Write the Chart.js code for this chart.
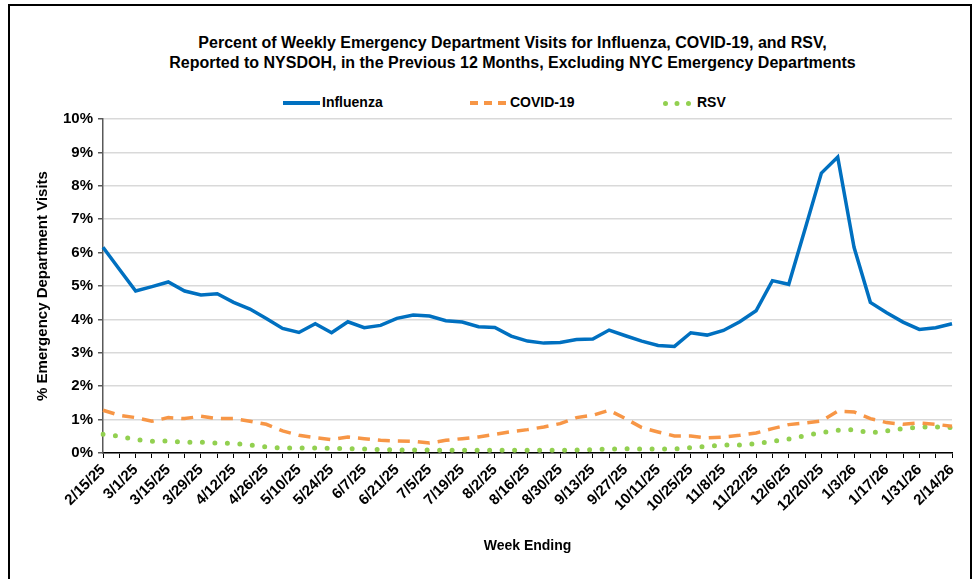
<!DOCTYPE html>
<html>
<head>
<meta charset="utf-8">
<script src="https://cdn.jsdelivr.net/npm/chart.js@4.4.1/dist/chart.umd.min.js"></script>
<style>
  html, body { margin: 0; padding: 0; width: 978px; height: 579px; overflow: hidden; background: #fff; }
  body { position: relative; font-family: 'Liberation Sans', Arial, sans-serif; color: #000; }
  #frame { position: absolute; left: 8px; top: 4px; width: 960px; height: 600px; border: 2px solid #000; }
  #title { position: absolute; left: 0; top: 33px; width: 1025px; text-align: center; font-weight: bold; font-size: 16px; line-height: 20px; }
  .leg { position: absolute; top: 93px; font-weight: bold; font-size: 14px; line-height: 18px; }
  .swatch { position: absolute; top: 8px; height: 0; }
  #chartBox { position: absolute; left: 0; top: 0; width: 978px; height: 579px; }
</style>
</head>
<body>
<div id="frame"></div>
<div id="title">Percent of Weekly Emergency Department Visits for Influenza, COVID-19, and RSV,<br>Reported to NYSDOH, in the Previous 12 Months, Excluding NYC Emergency Departments</div>
<div class="leg" style="left:283px"><span class="swatch" style="left:0;width:37px;border-top:4px solid #0070C0"></span><span style="margin-left:39px">Influenza</span></div>
<div class="leg" style="left:470px"><span class="swatch" style="left:0;width:36px;border-top:4px dashed #F79646"></span><span style="margin-left:40px">COVID-19</span></div>
<div class="leg" style="left:663px"><span class="swatch" style="left:0;width:28px;border-top:5px dotted #92D050"></span><span style="margin-left:34px">RSV</span></div>
<div id="chartBox"><canvas id="chart"></canvas></div>
<script>
// week ending dates, 2/15/25 .. 2/14/26
const weeks = [
  "2/15/25", "2/22/25", "3/1/25", "3/8/25", "3/15/25", "3/22/25", "3/29/25", "4/5/25", "4/12/25", "4/19/25",
  "4/26/25", "5/3/25", "5/10/25", "5/17/25", "5/24/25", "5/31/25", "6/7/25", "6/14/25", "6/21/25", "6/28/25",
  "7/5/25", "7/12/25", "7/19/25", "7/26/25", "8/2/25", "8/9/25", "8/16/25", "8/23/25", "8/30/25", "9/6/25",
  "9/13/25", "9/20/25", "9/27/25", "10/4/25", "10/11/25", "10/18/25", "10/25/25", "11/1/25", "11/8/25", "11/15/25",
  "11/22/25", "11/29/25", "12/6/25", "12/13/25", "12/20/25", "12/27/25", "1/3/26", "1/10/26", "1/17/26", "1/24/26",
  "1/31/26", "2/7/26", "2/14/26"
];

const influenza = [
  6.16, 5.50, 4.85, 4.98, 5.12, 4.85, 4.73, 4.77, 4.51, 4.31,
  4.03, 3.73, 3.61, 3.87, 3.60, 3.93, 3.75, 3.82, 4.03, 4.13,
  4.10, 3.96, 3.92, 3.78, 3.76, 3.50, 3.35, 3.29, 3.31, 3.40,
  3.41, 3.68, 3.51, 3.35, 3.22, 3.19, 3.60, 3.53, 3.67, 3.93,
  4.26, 5.16, 5.05, 6.71, 8.38, 8.86, 6.16, 4.51, 4.20, 3.92,
  3.70, 3.75, 3.87
];

const covid = [
  1.28, 1.13, 1.06, 0.95, 1.06, 1.03, 1.10, 1.03, 1.03, 0.95,
  0.86, 0.66, 0.53, 0.46, 0.40, 0.48, 0.43, 0.38, 0.36, 0.35,
  0.30, 0.38, 0.43, 0.48, 0.56, 0.64, 0.70, 0.78, 0.88, 1.06,
  1.13, 1.28, 1.03, 0.76, 0.63, 0.51, 0.51, 0.45, 0.48, 0.53,
  0.60, 0.73, 0.85, 0.90, 0.96, 1.25, 1.23, 1.03, 0.91, 0.86,
  0.90, 0.86, 0.80
];

const rsv = [
  0.56, 0.50, 0.40, 0.35, 0.36, 0.32, 0.32, 0.30, 0.29, 0.24,
  0.18, 0.15, 0.15, 0.15, 0.14, 0.13, 0.12, 0.10, 0.09, 0.09,
  0.09, 0.08, 0.08, 0.08, 0.08, 0.08, 0.08, 0.08, 0.08, 0.09,
  0.10, 0.12, 0.13, 0.12, 0.12, 0.12, 0.16, 0.20, 0.24, 0.24,
  0.28, 0.35, 0.42, 0.52, 0.61, 0.68, 0.70, 0.60, 0.66, 0.73,
  0.78, 0.78, 0.76
];

const fontFamily = "'Liberation Sans', Arial, sans-serif";

new Chart(document.getElementById("chart"), {
  type: "line",
  data: {
    labels: weeks,
    datasets: [
      { label: "Influenza", data: influenza, borderColor: "#0070C0", borderWidth: 3.5, pointRadius: 0, tension: 0 },
      { label: "COVID-19", data: covid, borderColor: "#F79646", borderWidth: 3.5, borderDash: [12, 8], pointRadius: 0, tension: 0 },
      { label: "RSV", data: rsv, borderColor: "#92D050", borderWidth: 5, borderDash: [0, 12.5], borderCapStyle: "round", pointRadius: 0, tension: 0 }
    ]
  },
  options: {
    responsive: true,
    maintainAspectRatio: false,
    animation: false,
    layout: { padding: { top: 119, right: 26, left: 0, bottom: 0 } },
    plugins: { legend: { display: false }, title: { display: false }, tooltip: { enabled: false } },
    scales: {
      x: {
        offset: false,
        grid: { display: true, drawOnChartArea: false, tickLength: 5, tickColor: "#000" },
        border: { color: "#000", width: 1.5 },
        ticks: {
          autoSkip: false, minRotation: 45, maxRotation: 45, padding: 3,
          color: "#000", font: { family: fontFamily, size: 15, weight: "bold" },
          callback: function (v, i) { return i % 2 === 0 ? weeks[i] : ""; }
        },
        title: { display: true, text: "Week Ending", color: "#000", font: { family: fontFamily, size: 14, weight: "bold" }, padding: { top: 0, bottom: 24 } },
        afterFit: function (s) { s.height = 126; }
      },
      y: {
        min: 0, max: 10,
        grid: { color: "#d9d9d9", lineWidth: 1.5, tickLength: 5, tickColor: "#595959" },
        border: { color: "#595959", width: 1.5 },
        ticks: {
          stepSize: 1, padding: 5,
          color: "#000", font: { family: fontFamily, size: 15, weight: "bold" },
          callback: function (v) { return v + "%"; }
        },
        title: { display: true, text: "% Emergency Department Visits", color: "#000", font: { family: fontFamily, size: 15, weight: "bold" }, padding: { top: 34, bottom: 0 } },
        afterFit: function (s) { s.width = 103; }
      }
    }
  }
});
</script>
</body>
</html>
